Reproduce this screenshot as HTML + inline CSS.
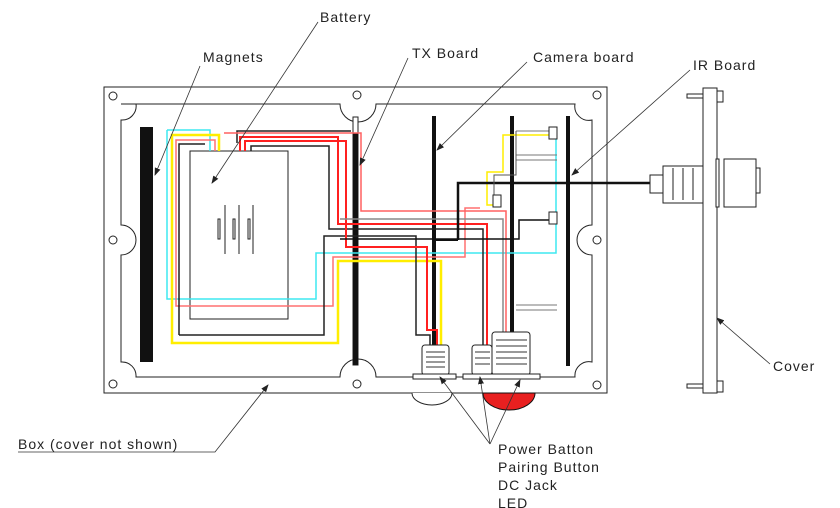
<!DOCTYPE html>
<html><head><meta charset="utf-8"><style>
html,body{margin:0;padding:0;background:#fff}
svg{display:block}
text{font-family:"Liberation Sans",sans-serif;font-size:14px;fill:#222;letter-spacing:1px}
</style></head><body>
<svg width="840" height="508" viewBox="0 0 840 508" xmlns="http://www.w3.org/2000/svg">
<defs><marker id="a" markerWidth="8" markerHeight="6" refX="7" refY="3" orient="auto" markerUnits="userSpaceOnUse"><path d="M0 0L8 3L0 6Z" fill="#222"/></marker></defs>
<g fill="none" stroke="#222" stroke-width="1">
<rect x="104" y="87" width="503" height="306"/>
<path d="M121 104 H340 A18 18 0 0 0 376 104 H575 A14 14 0 0 0 592 120 V225 A15 15 0 0 0 592 255 V362 A14 14 0 0 0 575 377 H376 A18 18 0 0 0 340 377 H136 A14 14 0 0 0 121 362 V255 A15 15 0 0 0 121 225 V120 A14 14 0 0 0 136 104"/>
<circle cx="113" cy="96" r="4"/><circle cx="357" cy="95" r="4"/><circle cx="597" cy="95" r="4"/>
<circle cx="113" cy="240" r="4"/><circle cx="597" cy="240" r="4"/>
<circle cx="113" cy="384" r="4"/><circle cx="357" cy="384" r="4"/><circle cx="597" cy="385" r="4"/>
<rect x="190" y="151" width="98" height="168"/>
<path d="M225 205V254M239 205V254M253 205V254"/>
<rect x="218" y="219" width="2" height="20"/><rect x="233" y="219" width="2" height="20"/><rect x="248" y="219" width="2" height="20"/>
</g>
<rect x="140" y="127" width="13" height="235" fill="#111"/>
<rect x="353" y="117" width="5" height="248" fill="#fff" stroke="#222"/>
<rect x="353" y="133" width="5" height="232" fill="#111"/>
<rect x="432" y="116" width="4" height="248" fill="#111"/>
<rect x="510" y="116" width="4" height="216" fill="#111"/>
<rect x="566" y="116" width="4" height="250" fill="#111"/>
<g fill="none" stroke-width="1.5">
<path d="M167 130H210V151M167 130V299H316V253H556V135" stroke="#3ee8f0"/>
<path d="M219 151V135H172V343H338V261H441V345" stroke="#ffee00" stroke-width="2.5"/>
<path d="M557 135H503V172H487V205H500" stroke="#ffee00"/>
<path d="M215 151V140H176V306H333V257H465V208H480" stroke="#ff7070"/>
<path d="M237 143V131H351" stroke="#222"/>
<path d="M224 133H361V211H506V332" stroke="#ff6060"/>
<path d="M179 335V144H205M179 335H324V236H416V335H430V345" stroke="#222"/>
<path d="M251 151V146H329V229H483V345" stroke="#222"/>
<path d="M240 151V137H338V224H487V345" stroke="#ff2020" stroke-width="2"/>
<path d="M245 151V141H346V247H427V330H437V345" stroke="#ff2020" stroke-width="2"/>
<path d="M340 219H503V332" stroke="#888"/>
<path d="M458 240V183H650" stroke="#111" stroke-width="2.5"/>
<path d="M435 240H458" stroke="#111" stroke-width="2"/>
<path d="M340 239H519V220H556" stroke="#111"/>
<path d="M516 131H549M516 155H557M516 160H557M516 305H557M516 310H557" stroke="#777" stroke-width="1"/>
<path d="M516 131V175H494V200" stroke="#555" stroke-width="1"/>
</g>
<g fill="#fff" stroke="#222" stroke-width="1">
<rect x="422" y="345" width="27" height="30" rx="3"/>
<rect x="413" y="374" width="43" height="5"/>
<rect x="472" y="345" width="20" height="30" rx="3"/>
<rect x="492" y="332" width="38" height="43" rx="3"/>
<rect x="463" y="374" width="77" height="5"/>
<path d="M412 393A20 12 0 0 0 452 393" />
<rect x="549" y="127" width="8" height="12"/><rect x="549" y="212" width="8" height="12"/>
<rect x="493" y="195" width="8" height="12"/>
</g>
<path d="M483 393A26 17 0 0 0 535 393Z" fill="#e82020" stroke="#111"/>
<g stroke="#333" stroke-width="1"><path d="M426 352H445M426 357H445M426 362H445M426 367H445M496 340H527M496 346H527M496 352H527M496 358H527M496 364H527M475 352H490M475 358H490M475 364H490"/></g>
<g fill="#fff" stroke="#222" stroke-width="1">
<rect x="703" y="88" width="14" height="305"/>
<rect x="687" y="94" width="16" height="4"/><rect x="717" y="91" width="6" height="11"/>
<rect x="687" y="384" width="16" height="4"/><rect x="717" y="381" width="6" height="11"/>
<rect x="663" y="166" width="40" height="37"/>
<rect x="650" y="175" width="13" height="18"/>
<rect x="716" y="159" width="3" height="48"/>
<rect x="724" y="159" width="32" height="48"/>
<rect x="756" y="168" width="4" height="25"/>
<path d="M673 168V200M683 168V200M693 168V200"/>
</g>
<g stroke="#333" stroke-width="0.8" fill="none" marker-end="url(#a)">
<path d="M200 66L155 175"/><path d="M318 22L212 183"/><path d="M408 58L360 165"/><path d="M527 62L437 150"/><path d="M690 70L572 175"/><path d="M770 364L717 318"/><path d="M18 452H215L268 385"/><path d="M490 444L440 377"/><path d="M490 444L480 377"/><path d="M490 444L520 380"/>
</g>
<text x="203" y="62">Magnets</text>
<text x="320" y="22">Battery</text>
<text x="412" y="58">TX Board</text>
<text x="533" y="62">Camera board</text>
<text x="693" y="70">IR Board</text>
<text x="773" y="371">Cover</text>
<text x="18" y="449">Box (cover not shown)</text>
<text x="498" y="454">Power Batton</text>
<text x="498" y="472">Pairing Button</text>
<text x="498" y="490">DC Jack</text>
<text x="498" y="508">LED</text>
</svg>
</body></html>
